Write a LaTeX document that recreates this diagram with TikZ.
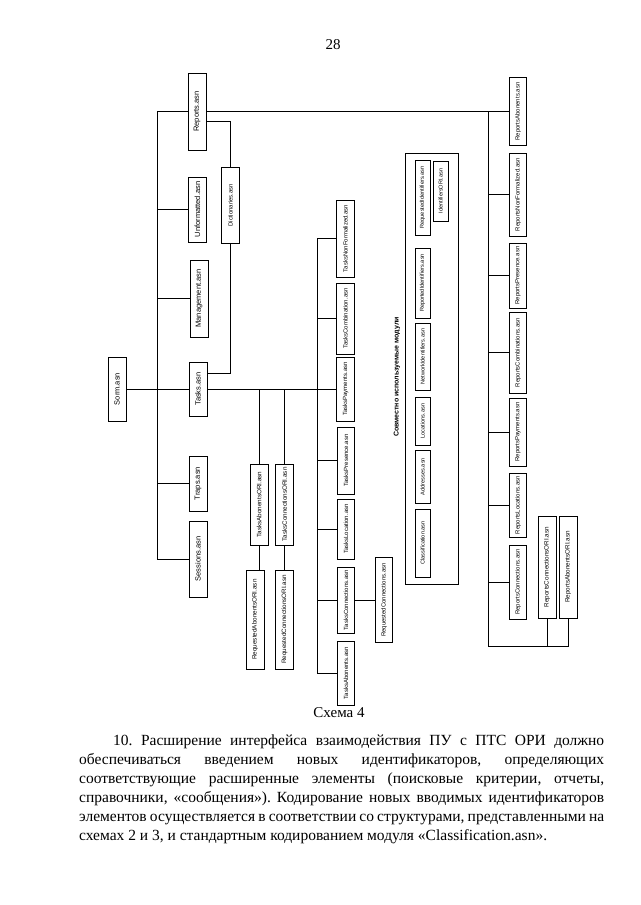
\documentclass[tikz,border=0pt]{standalone}
\usepackage{fontspec}
\setmainfont{Liberation Serif}
\newfontfamily\schemefont{Liberation Sans}
\usetikzlibrary{positioning}
\newcommand{\vt}[1]{\rotatebox{90}{#1}}
\frenchspacing
\tikzset{
  >=latex,
  % блоки схемы
  modbox/.style={draw,line width=0.9pt,minimum width=18,inner sep=1,font=\schemefont\fontsize{7.5}{8}\selectfont},
  subbox/.style={modbox,minimum width=17.5,font=\schemefont\fontsize{6}{7}\selectfont},
  oribox/.style={modbox,font=\schemefont\fontsize{6.3}{7}\selectfont},
  tinybox/.style={modbox,minimum width=15,line width=0.8pt,font=\schemefont\fontsize{5.6}{6}\selectfont},
  % соединения
  link/.style={line width=0.8pt}
}

\begin{document}
\begin{tikzpicture}[x=1pt,y=-1pt]
  \path[use as bounding box,fill=white] (0,0) rectangle (640,905);
  \node (pagenum) at (333,45) {\fontsize{15}{18}\selectfont 28};
  % верхний уровень
  \node[modbox,minimum height=77] (reports) at (197,111.5) {\vt{Reports.asn}};
  \node[modbox,minimum height=65] (unform) at (197.5,209.5) {\vt{Unformatted.asn}};
  \node[subbox,minimum height=76] (dict) at (230.5,205) {\vt{Dictionaries.asn}};
  \node[modbox,minimum height=77] (manag) at (199,298.5) {\vt{Management.asn}};
  \node[modbox,minimum height=64] (sorm) at (117,389) {\vt{Sorm.asn}};
  \node[modbox,minimum height=54] (tasks) at (198,389) {\vt{Tasks.asn}};
  \node[modbox,minimum height=55] (traps) at (198,483.5) {\vt{Traps.asn}};
  \node[modbox,minimum height=76] (sessions) at (198,559) {\vt{Sessions.asn}};
  % Tasks
  \node[subbox,minimum height=77] (tnf) at (345.5,238.5) {\vt{TasksNonFormalized.asn}};
  \node[subbox,minimum height=71] (tcomb) at (345.5,318.5) {\vt{TasksCombination.asn}};
  \node[subbox,minimum height=64] (tpay) at (345.5,389) {\vt{TasksPayments.asn}};
  \node[subbox,minimum height=67] (tpres) at (346,460.5) {\vt{TasksPresence.asn}};
  \node[subbox,minimum height=60] (tloc) at (346,529) {\vt{TasksLocation.asn}};
  \node[subbox,minimum height=66] (tconn) at (346,600) {\vt{TasksConnections.asn}};
  \node[subbox,minimum height=64] (tab) at (346,673) {\vt{TasksAbonents.asn}};
  \node[subbox,minimum height=85] (reqconn) at (384,600) {\vt{RequestedConnections.asn}};
  \node[oribox,minimum height=81] (tabori) at (259,504.5) {\vt{TasksAbonentsORI.asn}};
  \node[oribox,minimum height=81] (tconnori) at (284.5,504.5) {\vt{TasksConnectionsORI.asn}};
  \node[oribox,minimum height=99] (reqabori) at (255,619.5) {\vt{RequestedAbonentsORI.asn}};
  \node[oribox,minimum height=99] (reqconnori) at (284.5,619.5) {\vt{RequestedConnectionsORI.asn}};
  % Reports
  \node[subbox,minimum height=68] (repab) at (518,111.5) {\vt{ReportsAbonents.asn}};
  \node[subbox,minimum height=83] (repnf) at (518,194.5) {\vt{ReportsNonFormalized.asn}};
  \node[subbox,minimum height=65] (reppres) at (518,275.5) {\vt{ReportsPresence.asn}};
  \node[subbox,minimum height=81] (repcomb) at (518,352.5) {\vt{ReportsCombinations.asn}};
  \node[subbox,minimum height=68] (reppay) at (518,432) {\vt{ReportsPayments.asn}};
  \node[subbox,minimum height=64] (reploc) at (518,505) {\vt{ReportsLocations.asn}};
  \node[subbox,minimum height=74] (repconn) at (518,582) {\vt{ReportsConnections.asn}};
  \node[oribox,minimum height=102] (repconnori) at (547,567) {\vt{ReportsConnectionsORI.asn}};
  \node[oribox,minimum height=102] (repabori) at (568,567) {\vt{ReportsAbonentsORI.asn}};
  % совместно используемые
  \node[draw,line width=0.9pt,minimum width=53,minimum height=431] (shared) at (431.5,368.5) {};
  \node[font=\schemefont\bfseries\fontsize{7}{8}\selectfont,inner sep=0] (sharedlbl) at (397,377) {\vt{Совместно используемые модули}};
  \node[tinybox,minimum height=75] (reqid) at (422.5,197.5) {\vt{RequestedIdentifiers.asn}};
  \node[tinybox,minimum height=70] (repid) at (422.5,283) {\vt{ReportedIdentifiers.asn}};
  \node[tinybox,minimum height=67] (netid) at (422.5,356.5) {\vt{NetworkIdentifiers.asn}};
  \node[tinybox,minimum height=48] (loc) at (422.5,421) {\vt{Locations.asn}};
  \node[tinybox,minimum height=53] (addr) at (422.5,476.5) {\vt{Addresses.asn}};
  \node[tinybox,minimum height=68] (classif) at (422.5,543) {\vt{Classification.asn}};
  \node[tinybox,minimum height=60] (idori) at (440.5,191) {\vt{IdentifiersORI.asn}};
  % связи
  \coordinate (ltrunk) at (157,0);
  \coordinate (ttrunk) at (317,0);
  \coordinate (rtrunk) at (488,646);
  \draw[link] (sorm) -- (tasks);
  \draw[link] (reports.west) -| (ltrunk |- sessions.west) -- (sessions.west);
  \foreach \n in {unform,manag,traps} \draw[link] (\n.west) -- (\n.west -| ltrunk);
  \draw[link] ([yshift=-10pt]reports.east) -| (dict.north);
  \draw[link] (dict.south) |- ([yshift=16pt]tasks.east);
  \draw[link] (tasks.east) -- (tpay.west);
  \draw[link] (tnf.west) -| (ttrunk |- tab.west) -- (tab.west);
  \foreach \n in {tcomb,tpres,tloc,tconn} \draw[link] (\n.west) -- (\n.west -| ttrunk);
  \draw[link] (tconn.east) -- (tconn.east -| reqconn.west);
  \draw[link] (tabori.north) -- (tabori.north |- tasks.east);
  \draw[link] (tconnori.north) -- (tconnori.north |- tasks.east);
  \draw[link] (tabori.south) -- (tabori.south |- reqabori.north);
  \draw[link] (tconnori.south) -- (reqconnori.north);
  \draw[link] (reports.east) -- (repab.west);
  \draw[link] (repab.west -| rtrunk) -- (rtrunk) -| (repabori.south);
  \draw[link] (repconnori.south) -- (repconnori.south |- rtrunk);
  \foreach \n in {repnf,reppres,repcomb,reppay,reploc,repconn} \draw[link] (\n.west) -- (\n.west -| rtrunk);
  % подпись и текст
  \node (caption) at (339,713) {\fontsize{15}{18}\selectfont Схема 4};
  \node[anchor=north west,text width=525,inner sep=0,align=justify,font=\fontsize{15.5}{19}\selectfont] (body) at (79,735)
    {\hspace*{34pt}10. Расширение интерфейса взаимодействия ПУ с ПТС ОРИ должно\linebreak
     обеспечиваться введением новых идентификаторов, определяющих\linebreak
     соответствующие расширенные элементы (поисковые критерии, отчеты,\linebreak
     справочники, «сообщения»). Кодирование новых вводимых идентификаторов\linebreak
     элементов осуществляется в соответствии со структурами, представленными на\linebreak
     схемах 2 и 3, и стандартным кодированием модуля «Classification.asn».};
\end{tikzpicture}
\end{document}
